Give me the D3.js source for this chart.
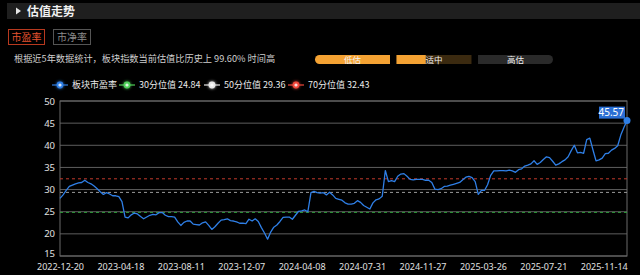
<!DOCTYPE html>
<html>
<head>
<meta charset="utf-8">
<script src="https://cdn.jsdelivr.net/npm/d3@7/dist/d3.min.js"></script>
<style>
  html, body { margin: 0; padding: 0; background: #000; }
  svg { display: block; font-family: "Noto Sans CJK SC", "Noto Sans", sans-serif; }
</style>
</head>
<body>
<div id="chart"></div>
<script>
var peValues = [
  28.0, 28.8, 29.8, 30.7, 31.0, 31.3, 31.5, 31.6, 32.1, 31.6,
  31.3, 30.8, 30.2, 29.5, 28.9, 29.3, 29.0, 28.6, 28.6, 28.4,
  27.3, 23.8, 23.6, 24.3, 24.7, 24.5, 23.9, 23.4, 23.8, 24.2,
  24.4, 24.3, 24.8, 24.8, 24.2, 23.9, 23.9, 23.8, 22.7, 21.9,
  22.6, 22.9, 22.9, 22.2, 22.1, 22.0, 22.5, 22.7, 21.9, 21.0,
  21.6, 22.4, 23.1, 23.2, 23.4, 23.0, 22.9, 22.7, 22.4, 22.4,
  22.3, 23.3, 22.9, 23.4, 22.8, 21.4, 20.2, 18.8, 20.4, 21.5,
  22.0, 22.8, 23.7, 23.8, 23.8, 23.3, 24.2, 25.1, 25.2, 25.4,
  25.0, 29.3, 29.6, 29.3, 29.2, 29.3, 28.8, 29.4, 28.8, 28.0,
  27.8, 27.6, 27.0, 26.7, 26.7, 26.9, 27.5, 27.1, 26.4, 26.0,
  25.6, 27.0, 27.7, 27.9, 28.5, 34.3, 31.8, 32.0, 31.8, 33.0,
  33.5, 33.6, 33.0, 32.3, 32.2, 32.3, 32.3, 32.3, 32.1, 32.1,
  31.6, 30.1, 30.0, 30.2, 30.7, 30.8, 31.0, 31.2, 31.4, 31.6,
  32.2, 32.8, 33.0, 32.7, 31.8, 28.9, 29.8, 29.8, 31.1, 33.2,
  34.2, 34.2, 34.3, 34.3, 34.2, 34.4, 34.2, 33.9, 34.5, 34.7,
  35.3, 35.5, 35.8, 36.5, 35.7, 36.1, 36.8, 37.4, 37.2, 36.4,
  35.5, 35.8, 36.3, 36.7, 37.4, 38.8, 40.0, 38.3, 38.4, 38.2,
  41.3, 41.6, 39.0, 36.5, 36.7, 37.1, 38.1, 38.2, 38.9, 39.3,
  39.9, 42.3, 44.0, 45.57
];
var sampleStep = 4;
var totalDays = 732;

var xTickLabels = ["2022-12-20", "2023-04-18", "2023-08-11", "2023-12-07", "2024-04-08",
  "2024-07-31", "2024-11-27", "2025-03-26", "2025-07-21", "2025-11-14"];
var tickEvery = 78;
var yTicks = [15, 20, 25, 30, 35, 40, 45, 50];

var seriesName = "板块市盈率";
var quantileNames = ["30分位值", "50分位值", "70分位值"];
var quantileValues = [24.84, 29.36, 32.43];
var quantileColors = ["#2e9a3a", "#9a9a9a", "#c23a2c"];

var bandNames = ["低估", "适中", "高估"];
var percentile = "99.60%";

var svgWidth = 640;
var svgHeight = 275;
var margin = { top: 101, right: 13, bottom: 19, left: 60 };
var chartWidth = svgWidth - margin.left - margin.right;
var chartHeight = svgHeight - margin.top - margin.bottom;

var svg = d3.select("#chart").append("svg")
  .attr("width", svgWidth)
  .attr("height", svgHeight);

svg.append("rect").attr("width", svgWidth).attr("height", svgHeight).attr("fill", "#000");

var defs = svg.append("defs");
var glow = defs.append("filter").attr("id", "glow").attr("x", "-100%").attr("y", "-100%")
  .attr("width", "300%").attr("height", "300%");
glow.append("feGaussianBlur").attr("stdDeviation", 1.6).attr("result", "b");
var fm = glow.append("feMerge");
fm.append("feMergeNode").attr("in", "b");
fm.append("feMergeNode").attr("in", "SourceGraphic");

// Header bar
svg.append("rect").attr("x", 7).attr("y", 3).attr("width", 633).attr("height", 16).attr("fill", "#1f1f1f");
svg.append("path").attr("d", "M16,7.5 L21,11 L16,14.5 Z").attr("fill", "#e6e6e6");
svg.append("text").attr("x", 27).attr("y", 15.5).attr("fill", "#f0f0f0")
  .attr("font-size", 12).attr("font-weight", "bold").text("估值走势");

// Tabs
svg.append("rect").attr("x", 8.5).attr("y", 29.5).attr("width", 36).attr("height", 15)
  .attr("fill", "none").attr("stroke", "#b8391f");
svg.append("text").attr("x", 26.5).attr("y", 40.5).attr("text-anchor", "middle").attr("fill", "#e4522f")
  .attr("font-size", 10).text("市盈率");
svg.append("rect").attr("x", 53.5).attr("y", 29.5).attr("width", 37).attr("height", 15)
  .attr("fill", "none").attr("stroke", "#555");
svg.append("text").attr("x", 72).attr("y", 40.5).attr("text-anchor", "middle").attr("fill", "#8a8a8a")
  .attr("font-size", 10).text("市净率");

svg.append("text").attr("x", 14).attr("y", 61.5).attr("fill", "#cfcfcf").attr("font-size", 9.2)
  .text("根据近5年数据统计，板块指数当前估值比历史上 " + percentile + " 时间高");

// Valuation band bars
var bandX = d3.scaleBand().domain(bandNames).range([315, 553]).paddingInner(0.08);
var bandG = svg.append("g");
bandNames.forEach(function(name, i) {
  var bx = bandX(name), bw = bandX.bandwidth();
  var fill = i === 0 ? "#f4a233" : (i === 1 ? "#3b2a10" : "#2a2a2a");
  var path;
  if (i === 0) {
    path = "M" + (bx + 4.5) + ",55 H" + (bx + bw) + " V64 H" + (bx + 4.5) + " A4.5,4.5 0 0 1 " + (bx + 4.5) + ",55 Z";
  } else if (i === 2) {
    path = "M" + bx + ",55 H" + (bx + bw - 4.5) + " A4.5,4.5 0 0 1 " + (bx + bw - 4.5) + ",64 H" + bx + " Z";
  } else {
    path = "M" + bx + ",55 H" + (bx + bw) + " V64 H" + bx + " Z";
  }
  bandG.append("path").attr("d", path).attr("fill", fill);
  if (i === 1) {
    bandG.append("rect").attr("x", bx).attr("y", 55).attr("width", bw * 0.39).attr("height", 9).attr("fill", "#f4a233");
  }
  bandG.append("text").attr("x", bx + bw / 2).attr("y", 62.8).attr("text-anchor", "middle")
    .attr("fill", "#f2f2f2").attr("font-size", 8.5).text(name);
});

// Legend
var legendItems = [{ name: seriesName, color: "#2f7fe6" }].concat(quantileNames.map(function(n, i) {
  return { name: n + " " + quantileValues[i], color: i === 0 ? "#4fd05a" : (i === 1 ? "#e8e8e8" : "#f0473a") };
}));
var legendX = [52, 119, 204, 288];
var legend = svg.append("g");
legendItems.forEach(function(item, i) {
  var g = legend.append("g").attr("transform", "translate(" + legendX[i] + ",85)");
  g.append("line").attr("x1", 0).attr("x2", 16).attr("stroke", item.color).attr("stroke-width", 1.2);
  g.append("circle").attr("cx", 8).attr("r", 3.4).attr("fill", item.color).attr("filter", "url(#glow)");
  g.append("circle").attr("cx", 8).attr("r", 1.6).attr("fill", "#fff").attr("opacity", 0.8);
  g.append("text").attr("x", 20).attr("y", 3.2).attr("fill", "#eaeaea").attr("font-size", 9).text(item.name);
});

// Scales
var xScale = d3.scaleLinear().domain([0, totalDays]).range([0, chartWidth]);
var yScale = d3.scaleLinear().domain([15, 50]).range([chartHeight, 0]);

var chart = svg.append("g").attr("transform", "translate(" + margin.left + "," + margin.top + ")");

// Grid
chart.selectAll(".grid").data(yTicks).enter().append("line")
  .attr("x1", 0).attr("x2", chartWidth)
  .attr("y1", function(d) { return yScale(d); })
  .attr("y2", function(d) { return yScale(d); })
  .attr("stroke", "#5e5e5e").attr("stroke-width", 1);
chart.append("rect").attr("x", 0).attr("y", 0).attr("width", chartWidth).attr("height", chartHeight)
  .attr("fill", "none").attr("stroke", "#6a6a6a");

// Axes
var leftAxis = d3.axisLeft(yScale).tickValues(yTicks).tickSize(0).tickPadding(5);
var yAxisG = chart.append("g").call(leftAxis);
yAxisG.select(".domain").remove();
yAxisG.selectAll("text").attr("fill", "#e0e0e0").attr("font-size", 9.5)
  .style("font-family", "'Noto Sans', sans-serif");
// nudge the bottom tick label up so it clears the date labels
yAxisG.selectAll("text").filter(function(d) { return d === 15; }).attr("dy", "0em");

var bottomAxis = d3.axisBottom(xScale)
  .tickValues(xTickLabels.map(function(d, i) { return i * tickEvery; }))
  .tickFormat(function(d, i) { return xTickLabels[i]; })
  .tickSize(0).tickPadding(8);
var xAxisG = chart.append("g").attr("transform", "translate(0," + chartHeight + ")").call(bottomAxis);
xAxisG.select(".domain").remove();
xAxisG.selectAll("text").attr("fill", "#e0e0e0").attr("font-size", 9)
  .style("font-family", "'Noto Sans', sans-serif");

// Quantile reference lines
chart.selectAll(".qline").data(quantileValues).enter().append("line")
  .attr("x1", 0).attr("x2", chartWidth)
  .attr("y1", function(d) { return yScale(d); })
  .attr("y2", function(d) { return yScale(d); })
  .attr("stroke", function(d, i) { return quantileColors[i]; })
  .attr("stroke-width", 1)
  .attr("stroke-dasharray", "3,3");

// PE line
var line = d3.line()
  .x(function(d, i) { return xScale(i * sampleStep); })
  .y(function(d) { return yScale(d); });
chart.append("path").datum(peValues)
  .attr("d", line).attr("fill", "none")
  .attr("stroke", "#2f7fe6").attr("stroke-width", 1.3).attr("stroke-linejoin", "round");

// Last value marker
var lastIdx = peValues.length - 1;
var lx = xScale(lastIdx * sampleStep), ly = yScale(peValues[lastIdx]);
chart.append("circle").attr("cx", lx).attr("cy", ly).attr("r", 3.5).attr("fill", "#2f7fe6");
var lastText = peValues[lastIdx].toFixed(2);
chart.append("rect").attr("x", lx - 28).attr("y", ly - 14).attr("width", 26).attr("height", 12).attr("fill", "#2b6fd4");
chart.append("text").attr("x", lx - 3).attr("y", ly - 4.5).attr("text-anchor", "end")
  .attr("fill", "#fff").attr("font-size", 10).style("font-family", "'Noto Sans', sans-serif").text(lastText);
</script>
</body>
</html>
